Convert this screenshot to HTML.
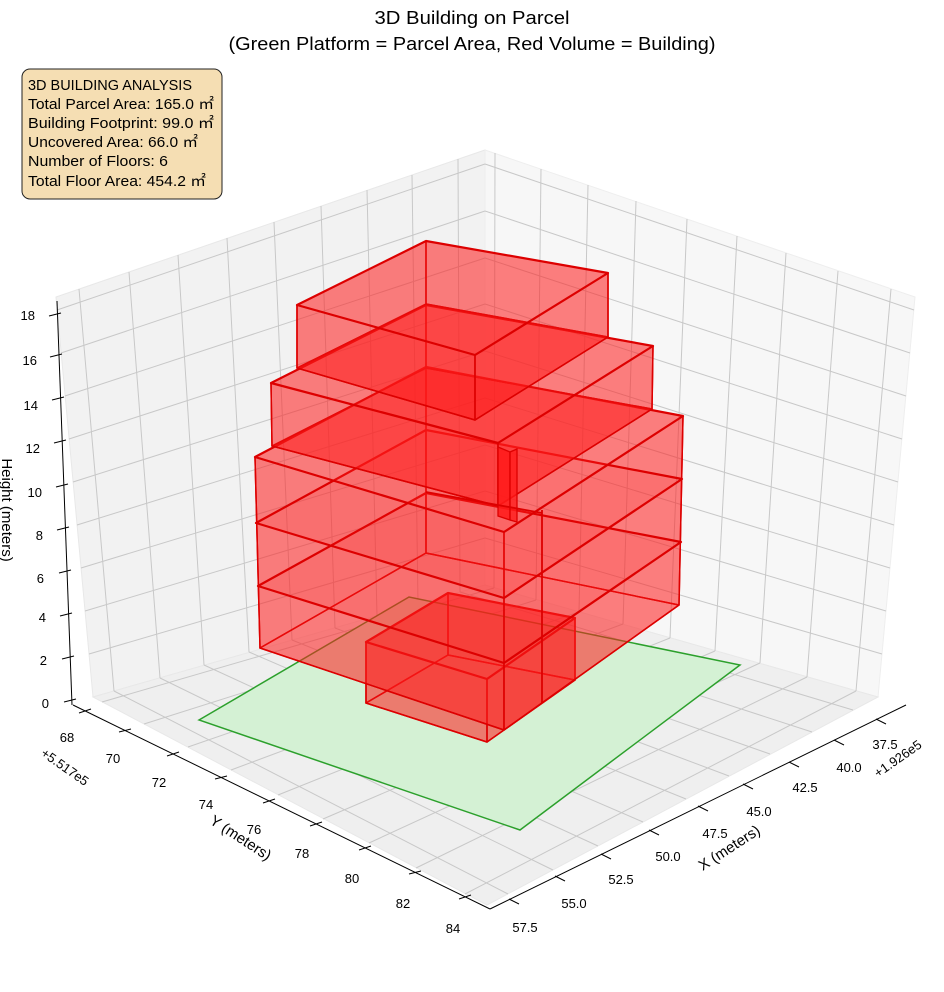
<!DOCTYPE html>
<html><head><meta charset="utf-8"><style>html,body{margin:0;padding:0;background:#fff}svg{display:block}</style></head>
<body>
<svg width="944" height="992" viewBox="0 0 944 992" xmlns="http://www.w3.org/2000/svg" font-family="'Liberation Sans', 'DejaVu Sans', sans-serif">
<polygon points="56,297 485,150 485,585 93,697" fill="#f2f2f2" stroke="#e8e8e8"/>
<polygon points="485,150 915,297 878,697 485,585" fill="#f7f7f7" stroke="#eeeeee"/>
<polygon points="93,697 485,585 878,697 487,905" fill="#efefef" stroke="#e8e8e8"/>
<g stroke="#c8c8c8" stroke-width="1" fill="none">
<line x1="79" y1="289" x2="114" y2="691"/><line x1="129" y1="272" x2="160" y2="678"/><line x1="178" y1="255" x2="204" y2="665"/>
<line x1="227" y1="238" x2="249" y2="652"/><line x1="274" y1="222" x2="292" y2="640"/><line x1="321" y1="206" x2="335" y2="628"/>
<line x1="367" y1="190" x2="377" y2="616"/><line x1="412" y1="175" x2="418" y2="604"/><line x1="458" y1="159" x2="460" y2="592"/>
<line x1="89" y1="654" x2="485" y2="538"/><line x1="85" y1="611" x2="485" y2="491"/><line x1="81" y1="568" x2="485" y2="445"/>
<line x1="77" y1="525" x2="485" y2="398"/><line x1="73" y1="482" x2="485" y2="351"/><line x1="69" y1="439" x2="485" y2="304"/>
<line x1="65" y1="396" x2="485" y2="258"/><line x1="61" y1="353" x2="485" y2="211"/><line x1="57" y1="310" x2="485" y2="164"/>
<line x1="495" y1="153" x2="494" y2="588"/><line x1="541" y1="169" x2="536" y2="600"/><line x1="588" y1="185" x2="579" y2="612"/>
<line x1="636" y1="201" x2="623" y2="624"/><line x1="687" y1="219" x2="670" y2="638"/><line x1="737" y1="236" x2="715" y2="651"/>
<line x1="786" y1="253" x2="760" y2="663"/><line x1="838" y1="271" x2="807" y2="677"/><line x1="891" y1="289" x2="856" y2="691"/>
<line x1="485" y1="538" x2="882" y2="654"/><line x1="485" y1="491" x2="886" y2="611"/><line x1="485" y1="445" x2="890" y2="568"/>
<line x1="485" y1="398" x2="894" y2="525"/><line x1="485" y1="351" x2="898" y2="482"/><line x1="485" y1="304" x2="902" y2="439"/>
<line x1="485" y1="258" x2="906" y2="396"/><line x1="485" y1="211" x2="910" y2="353"/><line x1="485" y1="164" x2="914" y2="310"/>
<line x1="102" y1="702" x2="494" y2="588"/><line x1="144" y1="724" x2="536" y2="600"/><line x1="188" y1="747" x2="579" y2="612"/>
<line x1="231" y1="770" x2="623" y2="624"/><line x1="278" y1="795" x2="670" y2="638"/><line x1="323" y1="819" x2="715" y2="651"/>
<line x1="369" y1="843" x2="760" y2="663"/><line x1="416" y1="868" x2="807" y2="677"/><line x1="465" y1="894" x2="856" y2="691"/>
<line x1="114" y1="691" x2="508" y2="894"/><line x1="160" y1="678" x2="553" y2="870"/><line x1="204" y1="665" x2="598" y2="846"/>
<line x1="249" y1="652" x2="643" y2="822"/><line x1="292" y1="640" x2="686" y2="799"/><line x1="335" y1="628" x2="729" y2="776"/>
<line x1="377" y1="616" x2="770" y2="754"/><line x1="418" y1="604" x2="812" y2="732"/><line x1="460" y1="592" x2="853" y2="710"/>
</g>
<polygon points="199,720 409,597 740,665 520,830" fill="#d4f1d4" stroke="#2ca02c" stroke-width="1.5"/>

<g fill="#ff1a1a" fill-opacity="0.33" stroke="#dd0000" stroke-width="1.5" stroke-linejoin="round">
<polygon points="366,703 448,655 575,680 487,742"/>
<polygon points="366,642 448,593 448,655 366,703"/>
<polygon points="448,593 575,618 575,680 448,655"/>
<polygon points="366,642 487,679 487,742 366,703"/>
<polygon points="487,679 575,618 575,680 487,742"/>
<polygon points="366,642 448,593 575,618 487,679" stroke-width="2.2"/>
<polygon points="260,648 426,553 679,605 504,730"/>
<polygon points="255,457 426,367 426,553 260,648"/>
<polygon points="426,367 683,416 679,605 426,553"/>
<polygon points="255,457 504,532 504,730 260,648"/>
<polygon points="504,532 683,416 679,605 504,730"/>
<polygon points="258,586 426,493 681,542 504,663" fill-opacity="0.12" stroke-width="2.2"/>
<polygon points="256,523 426,430 682,479 504,598" fill-opacity="0.12" stroke-width="2.2"/>
<polygon points="255,457 426,367 683,416 504,532" stroke-width="2.2"/>
<polygon points="272,446 426,368 652,409 498,506"/>
<polygon points="271,383 426,305 426,368 272,446"/>
<polygon points="426,305 653,346 652,409 426,368"/>
<polygon points="271,383 498,443 498,506 272,446"/>
<polygon points="498,443 653,346 652,409 498,506"/>
<polygon points="271,383 426,305 653,346 498,443" stroke-width="2.2"/>
<polygon points="297,368 426,304 608,337 475,420"/>
<polygon points="297,305 426,241 426,304 297,368"/>
<polygon points="426,241 608,273 608,337 426,304"/>
<polygon points="297,305 475,355 475,420 297,368"/>
<polygon points="475,355 608,273 608,337 475,420"/>
<polygon points="297,305 426,241 608,273 475,355" stroke-width="2.2"/>
</g>
<polygon points="498,447 510,452 510,520 498,516" fill="#ff1a1a" fill-opacity="0.85" stroke="#dd0000" stroke-width="1.3"/>
<polygon points="510,452 517,449 517,522 510,520" fill="#ff1a1a" fill-opacity="0.75" stroke="#dd0000" stroke-width="1.3"/>
<g stroke="#dd0000" stroke-width="1.8" fill="none">
<line x1="426" y1="492" x2="542" y2="513"/><line x1="542" y1="510" x2="542" y2="703"/>
</g>

<g stroke="#000" stroke-width="1" fill="none">
<line x1="57" y1="301" x2="72" y2="705"/>
<line x1="73" y1="705" x2="490" y2="909"/>
<line x1="490" y1="909" x2="906" y2="705"/>
<line x1="64" y1="702" x2="76" y2="699"/><line x1="62" y1="659" x2="74" y2="656"/><line x1="60" y1="616" x2="72" y2="613"/>
<line x1="59" y1="573" x2="71" y2="570"/><line x1="57" y1="530" x2="69" y2="527"/><line x1="56" y1="487" x2="68" y2="484"/>
<line x1="54" y1="443" x2="66" y2="440"/><line x1="52" y1="400" x2="64" y2="397"/><line x1="50" y1="357" x2="62" y2="354"/>
<line x1="49" y1="316" x2="61" y2="313"/>
<line x1="79" y1="713" x2="91" y2="709"/><line x1="119" y1="732" x2="131" y2="729"/><line x1="167" y1="756" x2="179" y2="752"/>
<line x1="215" y1="779" x2="227" y2="776"/><line x1="263" y1="803" x2="275" y2="799"/><line x1="310" y1="826" x2="322" y2="822"/>
<line x1="359" y1="850" x2="371" y2="846"/><line x1="409" y1="874" x2="421" y2="871"/><line x1="459" y1="899" x2="471" y2="895"/>
<line x1="876" y1="719" x2="886" y2="724"/><line x1="834" y1="740" x2="844" y2="745"/><line x1="789" y1="762" x2="799" y2="767"/>
<line x1="743" y1="784" x2="753" y2="789"/><line x1="698" y1="806" x2="708" y2="811"/><line x1="649" y1="830" x2="659" y2="835"/>
<line x1="601" y1="854" x2="611" y2="859"/><line x1="555" y1="876" x2="565" y2="881"/><line x1="509" y1="899" x2="519" y2="904"/>
</g>
<g font-size="13" fill="#000">
<g text-anchor="end">
<text x="49" y="708">0</text><text x="47" y="665">2</text><text x="46" y="622">4</text><text x="44" y="583">6</text><text x="43" y="540">8</text>
<text x="42" y="497">10</text><text x="40" y="453">12</text><text x="38" y="410">14</text><text x="37" y="365">16</text><text x="35" y="320">18</text>
</g>
<g text-anchor="middle">
<text x="67" y="742">68</text><text x="113" y="763">70</text><text x="159" y="787">72</text><text x="206" y="809">74</text><text x="254" y="834">76</text>
<text x="302" y="858">78</text><text x="352" y="883">80</text><text x="403" y="908">82</text><text x="453" y="933">84</text>
<text x="885" y="749">37.5</text><text x="849" y="772">40.0</text><text x="805" y="792">42.5</text><text x="759" y="816">45.0</text><text x="715" y="838">47.5</text>
<text x="668" y="861">50.0</text><text x="621" y="884">52.5</text><text x="574" y="908">55.0</text><text x="525" y="932">57.5</text>
</g>
<text transform="translate(40,755) rotate(35)" font-size="13">+5.517e5</text>
<text transform="translate(878,778) rotate(-35)" font-size="13">+1.926e5</text>
</g>
<g font-size="15" fill="#000" text-anchor="middle">
<text transform="translate(238,842) rotate(33)">Y (meters)</text>
<text transform="translate(732,852) rotate(-33)">X (meters)</text>
<text transform="translate(2,510) rotate(90)">Height (meters)</text>
</g>
<g font-size="18" fill="#000" text-anchor="middle">
<text x="472" y="24" textLength="195" lengthAdjust="spacingAndGlyphs">3D Building on Parcel</text>
<text x="472" y="50" textLength="487" lengthAdjust="spacingAndGlyphs">(Green Platform = Parcel Area, Red Volume = Building)</text>
</g>
<rect x="22" y="69" width="200" height="130" rx="8" fill="#f5deb3" stroke="#222" stroke-width="1"/>
<g font-size="14.5" fill="#000">
<text x="28" y="90" textLength="164" lengthAdjust="spacingAndGlyphs">3D BUILDING ANALYSIS</text>
<text x="28" y="109" textLength="186" lengthAdjust="spacingAndGlyphs">Total Parcel Area: 165.0 ㎡</text>
<text x="28" y="128" textLength="186" lengthAdjust="spacingAndGlyphs">Building Footprint: 99.0 ㎡</text>
<text x="28" y="147" textLength="170" lengthAdjust="spacingAndGlyphs">Uncovered Area: 66.0 ㎡</text>
<text x="28" y="166" textLength="140" lengthAdjust="spacingAndGlyphs">Number of Floors: 6</text>
<text x="28" y="186" textLength="178" lengthAdjust="spacingAndGlyphs">Total Floor Area: 454.2 ㎡</text>
</g>
</svg>
</body></html>
